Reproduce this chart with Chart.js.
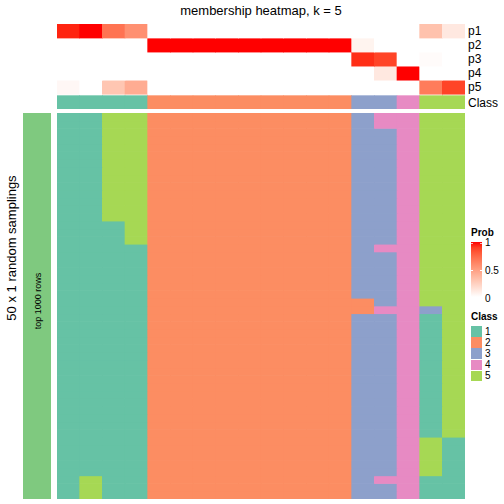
<!DOCTYPE html>
<html>
<head>
<meta charset="utf-8">
<script src="https://cdn.jsdelivr.net/npm/chart.js@4.4.0/dist/chart.umd.min.js"></script>
<style>
  body { margin: 0; width: 504px; height: 504px; position: relative; overflow: hidden; background: #fff;
         font-family: "Liberation Sans", Arial, sans-serif; color: #000; }
  .abs { position: absolute; }
  .lbl { position: absolute; font-size: 12px; line-height: 14px; }
  .leg { position: absolute; font-size: 10px; line-height: 12px; }
</style>
</head>
<body>
<div class="abs" style="left:0;top:3px;width:522px;text-align:center;font-size:13px;">membership heatmap, k = 5</div>

<canvas id="topHeat" class="abs" style="left:57px;top:24px;" width="408" height="85"></canvas>
<canvas id="mainHeat" class="abs" style="left:57px;top:113px;" width="408" height="386"></canvas>

<div id="rowLabels"></div>

<!-- left annotation -->
<div class="abs" style="left:23px;top:113px;width:28px;height:386px;background:#7FC97F;"></div>
<div class="abs" style="left:38px;top:301px;transform:translate(-50%,-50%) rotate(-90deg);font-size:9px;white-space:nowrap;">top 1000 rows</div>
<div class="abs" style="left:11px;top:248px;transform:translate(-50%,-50%) rotate(-90deg);font-size:13px;white-space:nowrap;">50 x 1 random samplings</div>

<!-- legends -->
<div class="leg" style="left:471px;top:227px;font-weight:bold;">Prob</div>
<div id="probBar" class="abs" style="left:471px;top:242px;width:11px;height:55px;"></div>
<div class="abs" style="left:471px;top:270px;width:2px;height:1px;background:#fff;"></div>
<div class="abs" style="left:480px;top:270px;width:2px;height:1px;background:#fff;"></div>
<div class="abs" style="left:471px;top:243px;width:2px;height:1px;background:#fbb;"></div>
<div class="abs" style="left:480px;top:243px;width:2px;height:1px;background:#fbb;"></div>
<div class="leg" style="left:485px;top:237px;">1</div>
<div class="leg" style="left:485px;top:265px;">0.5</div>
<div class="leg" style="left:485px;top:293px;">0</div>
<div class="leg" style="left:471px;top:311px;font-weight:bold;">Class</div>
<div id="classLegend"></div>

<script>
// membership probabilities per sample (18 samples)
const memberNames = ['p1', 'p2', 'p3', 'p4', 'p5'];
const p1 = [0.96, 1, 0.7, 0.57, 0, 0, 0, 0, 0, 0, 0, 0, 0, 0, 0, 0, 0.32, 0.12];
const p2 = [0, 0, 0, 0, 1, 1, 1, 1, 1, 1, 1, 1, 1, 0.06, 0, 0, 0, 0];
const p3 = [0, 0, 0, 0, 0, 0, 0, 0, 0, 0, 0, 0, 0, 0.94, 0.88, 0, 0.02, 0];
const p4 = [0, 0, 0, 0, 0, 0, 0, 0, 0, 0, 0, 0, 0, 0, 0.12, 1, 0, 0];
const p5 = [0.04, 0, 0.3, 0.43, 0, 0, 0, 0, 0, 0, 0, 0, 0, 0, 0, 0, 0.66, 0.88];
const sampleClass = [1, 1, 1, 1, 2, 2, 2, 2, 2, 2, 2, 2, 2, 3, 3, 4, 5, 5];

const classNames = ['1', '2', '3', '4', '5'];
const classColors = ['#66C2A5', '#FC8D62', '#8DA0CB', '#E78AC3', '#A6D854'];

// 50 random samplings, one string per sampling, one digit (class) per sample
const samplings = [
  '115522222222234455', '115522222222234455',
  '115522222222233455', '115522222222233455', '115522222222233455', '115522222222233455',
  '115522222222233455', '115522222222233455', '115522222222233455', '115522222222233455',
  '115522222222233455', '115522222222233455', '115522222222233455', '115522222222233455',
  '111522222222233455', '111522222222233455', '111522222222233455',
  '111122222222234455',
  '111122222222233455', '111122222222233455', '111122222222233455', '111122222222233455',
  '111122222222233455', '111122222222233455',
  '111122222222223455',
  '111122222222224435',
  '111122222222233415', '111122222222233415', '111122222222233415', '111122222222233415',
  '111122222222233415', '111122222222233415', '111122222222233415', '111122222222233415',
  '111122222222233415', '111122222222233415', '111122222222233415', '111122222222233415',
  '111122222222233415', '111122222222233415', '111122222222233415', '111122222222233415',
  '111122222222233451', '111122222222233451', '111122222222233451', '111122222222233451',
  '111122222222233451',
  '151122222222234411',
  '151122222222233411', '151122222222233411'
];

// white -> red in LAB space
function toLin(c) { c /= 255; return c <= 0.04045 ? c / 12.92 : Math.pow((c + 0.055) / 1.055, 2.4); }
function toSrgb(c) {
  c = c <= 0.0031308 ? 12.92 * c : 1.055 * Math.pow(c, 1 / 2.4) - 0.055;
  return Math.round(Math.max(0, Math.min(1, c)) * 255);
}
function rgbToLab(rgb) {
  const r = toLin(rgb[0]), g = toLin(rgb[1]), b = toLin(rgb[2]);
  const f = t => t > 0.008856 ? Math.cbrt(t) : 7.787 * t + 16 / 116;
  const x = f((0.4124 * r + 0.3576 * g + 0.1805 * b) / 0.95047);
  const y = f(0.2126 * r + 0.7152 * g + 0.0722 * b);
  const z = f((0.0193 * r + 0.1192 * g + 0.9505 * b) / 1.08883);
  return [116 * y - 16, 500 * (x - y), 200 * (y - z)];
}
function labToRgb(lab) {
  const fy = (lab[0] + 16) / 116, fx = lab[1] / 500 + fy, fz = fy - lab[2] / 200;
  const inv = t => t * t * t > 0.008856 ? t * t * t : (t - 16 / 116) / 7.787;
  const x = inv(fx) * 0.95047, y = inv(fy), z = inv(fz) * 1.08883;
  const r = 3.2406 * x - 1.5372 * y - 0.4986 * z;
  const g = -0.9689 * x + 1.8758 * y + 0.0415 * z;
  const b = 0.0557 * x - 0.2040 * y + 1.0570 * z;
  return 'rgb(' + toSrgb(r) + ',' + toSrgb(g) + ',' + toSrgb(b) + ')';
}
const labWhite = rgbToLab([255, 255, 255]);
const labRed = rgbToLab([255, 0, 0]);
function probColor(v) {
  return labToRgb(labWhite.map((w, i) => w + (labRed[i] - w) * v));
}

const columns = sampleClass.map((c, i) => 'S' + (i + 1));
const baseOptions = (ymax) => ({
  responsive: false,
  animation: false,
  events: [],
  layout: { padding: 0 },
  plugins: { legend: { display: false }, tooltip: { enabled: false } },
  scales: {
    x: { stacked: true, display: false },
    y: { min: 0, max: ymax, reverse: true, display: false }
  }
});
const barStyle = { barPercentage: 1, categoryPercentage: 1, borderWidth: 0 };

// top: membership rows + Class annotation
const classGap = 0.1;
const memberSeries = [p1, p2, p3, p4, p5];
const topSets = memberSeries.map((vals, i) => ({
  label: memberNames[i],
  data: vals.map(() => [i, i + 1]),
  backgroundColor: vals.map(probColor),
  ...barStyle
}));
const classTop = memberSeries.length + classGap;
topSets.push({
  label: 'Class',
  data: sampleClass.map(() => [classTop, classTop + 0.95]),
  backgroundColor: sampleClass.map(c => classColors[c - 1]),
  ...barStyle
});
new Chart(document.getElementById('topHeat'), {
  type: 'bar',
  data: { labels: columns, datasets: topSets },
  options: baseOptions(classTop + 0.95)
});

// bottom: 50 samplings
const mainSets = samplings.map((row, r) => ({
  label: 'sampling ' + (r + 1),
  data: row.split('').map(() => [r, r + 1]),
  backgroundColor: row.split('').map(d => classColors[+d - 1]),
  ...barStyle
}));
new Chart(document.getElementById('mainHeat'), {
  type: 'bar',
  data: { labels: columns, datasets: mainSets },
  options: baseOptions(samplings.length)
});

// row labels
const labelBox = document.getElementById('rowLabels');
memberNames.concat(['Class']).forEach((name, i) => {
  const d = document.createElement('div');
  d.className = 'lbl';
  d.style.left = '468px';
  d.style.top = (i < 5 ? 24 + i * 14 : 95.5) + 'px';
  d.textContent = name;
  labelBox.appendChild(d);
});

// prob gradient
const stops = [];
for (let k = 0; k <= 10; k++) stops.push(probColor(1 - k / 10) + ' ' + (k * 10) + '%');
document.getElementById('probBar').style.background = 'linear-gradient(to bottom,' + stops.join(',') + ')';

// class legend
const cl = document.getElementById('classLegend');
classNames.forEach((name, i) => {
  const top = 326 + i * 11.2;
  const box = document.createElement('div');
  box.className = 'abs';
  box.style.cssText = 'left:471px;top:' + top + 'px;width:11px;height:10.5px;background:' + classColors[i] + ';';
  cl.appendChild(box);
  const t = document.createElement('div');
  t.className = 'leg';
  t.style.left = '485px';
  t.style.top = (top - 0.5) + 'px';
  t.textContent = name;
  cl.appendChild(t);
});
</script>
</body>
</html>
